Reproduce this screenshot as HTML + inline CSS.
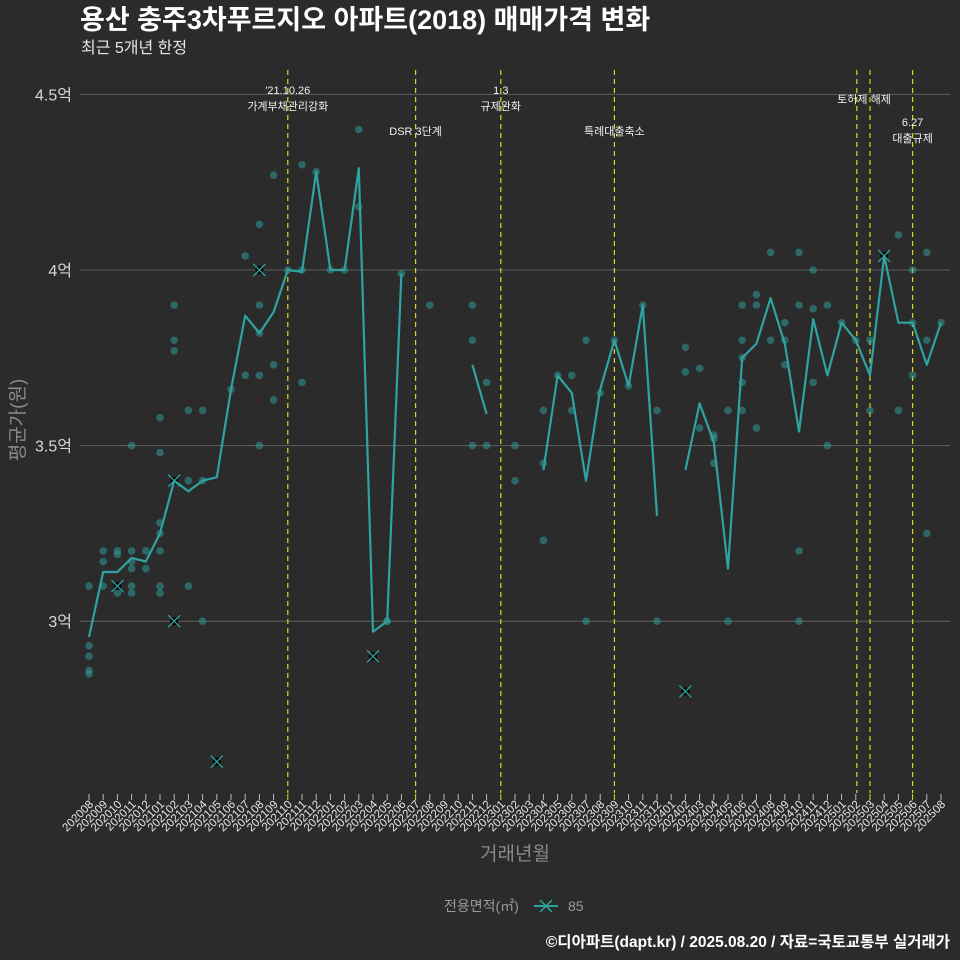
<!DOCTYPE html>
<html><head><meta charset="utf-8"><style>
html,body{margin:0;background:#2b2b2c;overflow:hidden;width:960px;height:960px;}
svg{display:block;}
svg text{font-family:"Liberation Sans","Noto Sans CJK KR",sans-serif;}
</style></head><body>
<svg id="c" width="960" height="960" xmlns="http://www.w3.org/2000/svg">
<rect width="960" height="960" fill="#2b2b2c"/>
<text x="80" y="29" font-size="27" font-weight="bold" fill="#ffffff">용산 충주3차푸르지오 아파트(2018) 매매가격 변화</text>
<text x="81" y="53" font-size="16" fill="#e6e6e6">최근 5개년 한정</text>
<g id="grid"></g><g id="vl"></g><g id="dots"></g><g id="line"></g><g id="xax"></g><g id="ann"></g>
<text transform="translate(24,420) rotate(-90)" text-anchor="middle" font-size="19" fill="#8a8a8a">평균가(원)</text>
<text x="515" y="860" text-anchor="middle" font-size="19" fill="#8a8a8a">거래년월</text>
<g>
<text x="444" y="911" font-size="14" fill="#9a9a9a">전용면적(㎡)</text>
<line x1="534" y1="906" x2="558" y2="906" stroke="#2fa3a0" stroke-width="2"/>
<path d="M540,900 L552,912 M552,900 L540,912" stroke="#2fa3a0" stroke-width="1.5"/>
<text x="568" y="911" font-size="14" fill="#9a9a9a">85</text>
</g>
<text x="950" y="947" text-anchor="end" font-size="15.5" font-weight="bold" fill="#ffffff">©디아파트(dapt.kr) / 2025.08.20 / 자료=국토교통부 실거래가</text>
</svg>
<script>
const months=[];for(let y=2020,m=8;months.length<61;){months.push(y+String(m).padStart(2,'0'));m++;if(m>12){m=1;y++;}}
const lineVals=[2.955,3.14,3.14,3.18,3.17,3.25,3.40,3.37,3.40,3.41,3.66,3.87,3.82,3.88,4.0,3.995,4.28,4.0,4.0,4.29,2.97,3.0,3.99,null,null,null,null,3.73,3.59,null,null,null,3.43,3.70,3.65,3.40,3.66,3.80,3.67,3.90,3.30,null,3.43,3.62,3.51,3.15,3.75,3.79,3.92,3.79,3.54,3.86,3.70,3.85,3.80,3.70,4.04,3.85,3.85,3.73,3.85];
const dotIdx=[0,0,0,0,0,1,1,1,2,2,2,2,3,3,3,3,3,3,4,4,5,5,5,5,5,5,5,6,6,6,7,7,7,8,8,8,10,11,11,12,12,12,12,12,13,13,13,14,15,15,15,16,17,18,19,19,21,21,22,24,27,27,27,28,28,30,30,32,32,32,33,34,34,35,35,36,37,38,39,40,40,42,42,43,43,44,44,44,45,45,46,46,46,46,46,47,47,47,48,48,49,49,49,50,50,50,50,51,51,51,52,52,53,54,55,55,57,57,58,58,58,59,59,59,60];
const dotVals=[2.93,2.90,2.86,2.85,3.10,3.20,3.17,3.10,3.20,3.19,3.10,3.08,3.50,3.20,3.17,3.15,3.10,3.08,3.20,3.15,3.58,3.48,3.28,3.25,3.20,3.10,3.08,3.90,3.80,3.77,3.60,3.40,3.10,3.60,3.40,3.00,3.66,4.04,3.70,4.13,3.90,3.82,3.70,3.50,4.27,3.73,3.63,4.0,4.30,4.0,3.68,4.28,4.0,4.0,4.18,4.40,3.0,3.0,3.99,3.90,3.90,3.80,3.50,3.68,3.50,3.50,3.40,3.60,3.45,3.23,3.70,3.70,3.60,3.80,3.0,3.65,3.80,3.67,3.90,3.60,3.0,3.78,3.71,3.72,3.55,3.53,3.52,3.45,3.60,3.0,3.90,3.80,3.75,3.68,3.60,3.93,3.90,3.55,3.80,4.05,3.85,3.80,3.73,3.90,3.20,4.05,3.0,3.89,3.68,4.0,3.90,3.50,3.85,3.80,3.80,3.60,3.60,4.10,3.85,3.70,4.0,3.80,3.25,4.05,3.85];
const xIdx=[2,6,6,9,12,20,42,56];
const xVals=[3.10,3.40,3.00,2.60,4.00,2.90,2.80,4.04];
const yTicks=[3,3.5,4,4.5];
const yTickLabels=['3억','3.5억','4억','4.5억'];
const events=[{i:14,t:["'21.10.26","가계부채관리강화"],y:94},{i:23,t:["DSR 3단계"],y:135},{i:29,t:["1.3","규제완화"],y:94},{i:37,t:["특례대출축소"],y:135},{i:54,t:[""],y:0},{i:55,t:[""],y:0},{i:58,t:["6.27","대출규제"],y:126}];
const X=i=>89+i*14.2, Y=v=>270+(4-v)*351.2;
const NS='http://www.w3.org/2000/svg';
function mk(p,tag,a,txt){const e=document.createElementNS(NS,tag);for(const k in a)e.setAttribute(k,a[k]);if(txt!==undefined)e.textContent=txt;p.appendChild(e);return e;}
const g=document.getElementById('grid');
yTicks.forEach((v,k)=>{const l=mk(g,'line',{x1:80,x2:950,y1:Y(v),y2:Y(v),stroke:'#5e5e5e','stroke-width':1});


const t=mk(g,'text',{x:72,y:Y(v)+6,'text-anchor':'end','font-size':16,fill:'#d8d8d8'},yTickLabels[k]);

});
const vl=document.getElementById('vl'),an=document.getElementById('ann');
events.forEach(ev=>{const x=X(ev.i)+(ev.i==54?1:0);const l=mk(vl,'line',{x1:x,x2:x,y1:70,y2:793,stroke:'#d8d820','stroke-width':1.2,'stroke-dasharray':'5,4'});


ev.t.forEach((s,k)=>{if(!s)return;const t=mk(an,'text',{x:x,y:ev.y+k*16,'text-anchor':'middle','font-size':11,fill:'#f0f0f0'},s);

});});
{const t=mk(an,'text',{x:864,y:103,'text-anchor':'middle','font-size':11,fill:'#f0f0f0'},'토허제 해제');

}
const dg=document.getElementById('dots');
dotIdx.forEach((i,k)=>{const c=mk(dg,'circle',{cx:X(i),cy:Y(dotVals[k]),r:3.8,fill:'#2fa3a0','fill-opacity':0.5});

});
xIdx.forEach((i,k)=>{const x=X(i),y=Y(xVals[k]);const c=mk(dg,'circle',{cx:x,cy:y,r:4,fill:'#000'});


const p=mk(dg,'path',{d:`M${x-6},${y-6}L${x+6},${y+6}M${x+6},${y-6}L${x-6},${y+6}`,stroke:'#2fa3a0','stroke-width':1.3});

});
const lg=document.getElementById('line');let d='',pen=false;
lineVals.forEach((v,i)=>{if(v==null){pen=false;return;}d+=(pen?'L':'M')+X(i)+','+Y(v);pen=true;});
const pl=mk(lg,'path',{d:d,fill:'none',stroke:'#2fa3a0','stroke-width':2.2,'stroke-linejoin':'round'});


const xa=document.getElementById('xax');const ev=[14,23,29,37,55,58];
months.forEach((m,i)=>{const x=X(i);const l=mk(xa,'line',{x1:x,x2:x,y1:794,y2:800,stroke:ev.includes(i)?'#e0e020':'#bbbbbb','stroke-width':1});


const t=mk(xa,'text',{transform:`translate(${x+5},${805}) rotate(-45)`,'text-anchor':'end','font-size':11.5,fill:'#e6e6e6'},m);

});
</script>
</body></html>
